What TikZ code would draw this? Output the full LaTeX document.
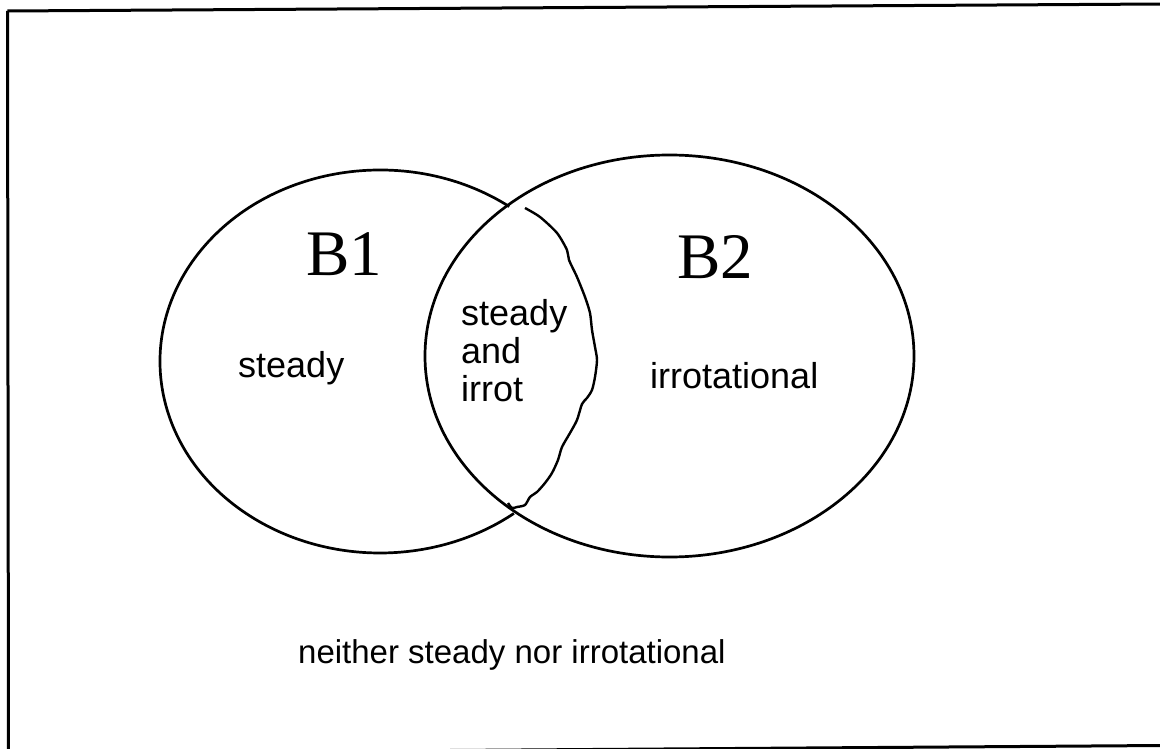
\documentclass[tikz,border=0pt]{standalone}
\usepackage{fontspec}
\setmainfont{Liberation Serif}
\newfontfamily\lsans{Liberation Sans}
\usetikzlibrary{shapes.geometric}
\begin{document}
\begin{tikzpicture}[x=1pt,y=-1pt,
  outline/.style={line width=2.7pt, black},
  framestroke/.style={line width=3pt, black},
  bigletter/.style={inner sep=0pt, anchor=base, font=\fontsize{65}{70}\selectfont},
  label/.style={inner sep=0pt, anchor=base west, font=\lsans\fontsize{36}{38}\selectfont},
  smalllabel/.style={inner sep=0pt, anchor=base west, font=\lsans\fontsize{33}{36}\selectfont}]
\useasboundingbox (0,0) rectangle (1160,749);
\fill[white] (0,0) rectangle (1160,749);
% frame (slightly tilted scan)
\begin{scope}
\clip (0,0) rectangle (1160,749);
\draw[framestroke] (7.5,11) -- (1162,4);
\draw[framestroke] (7.5,11) -- (8.5,760);
\draw[framestroke] (7.5,753.6) -- (1162,745.5);
\end{scope}
% right set B2: full ellipse
\node[draw, outline, ellipse, minimum width=489pt, minimum height=402pt, inner sep=0pt] (setB2) at (669.5,356) {};
% left set B1: outer arc, its inner arc redrawn by hand
\coordinate (cB1) at (380,361.5);
\draw[outline] (cB1) ++(-54:220 and 191.5) arc[start angle=-54, end angle=-307.5, x radius=220, y radius=191.5];
\draw[outline, line width=2.4pt, line join=round] plot[smooth, tension=0.45] coordinates {
 (525,208) (540,217) (557,233) (567,250) (569,260) (577,277) (585,297) (590,313)
 (592,330) (595,347) (597,360) (595,377) (592,390) (587,398) (582,404) (577,420)
 (570,433) (562,447) (558,460) (552,473) (545,483) (537,492) (530,497) (525,505)
 (517,507) (512,508) (508,503)};
% labels
\node[bigletter] (b1) at (344,275) {B1};
\node[bigletter] (b2) at (715,278) {B2};
\node[label] (steady) at (238,377) {steady};
\node[label] (irrotational) at (650,388) {irrotational};
\node[label] (both1) at (461,325) {steady};
\node[label] (both2) at (461,363) {and};
\node[label] (both3) at (461,401) {irrot};
\node[smalllabel] (neither) at (298,663) {neither steady nor irrotational};
\end{tikzpicture}
\end{document}
